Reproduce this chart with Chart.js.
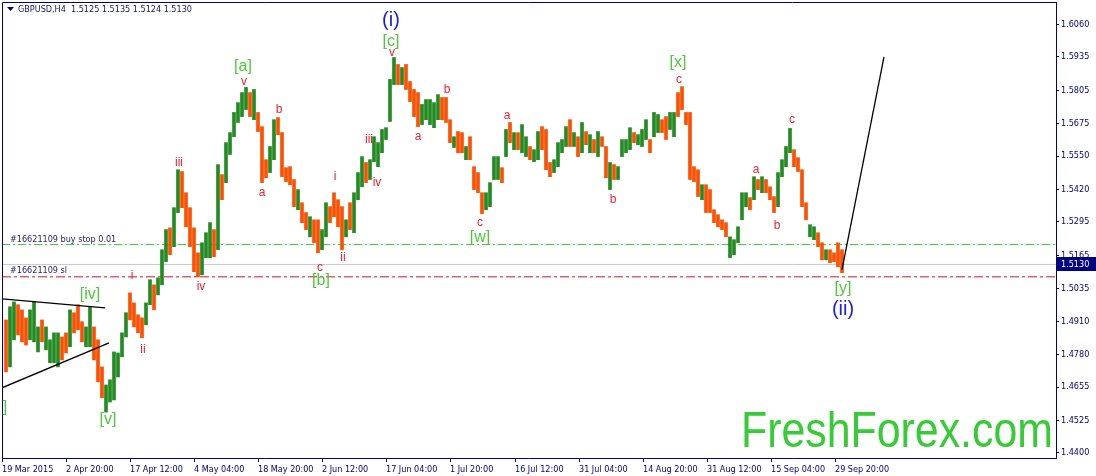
<!DOCTYPE html>
<html>
<head>
<meta charset="utf-8">
<script src="https://cdn.jsdelivr.net/npm/chart.js@4.4.1/dist/chart.umd.min.js"></script>
<style>
  html, body { margin: 0; padding: 0; background: #fff; }
</style>
</head>
<body>
<canvas id="myChart" width="1096" height="476"></canvas>
<script>
// price scale labels (MT4 style)
const priceTicks = [1.6060, 1.5935, 1.5805, 1.5675, 1.5550, 1.5420, 1.5295, 1.5165, 1.5035, 1.4910, 1.4780, 1.4655, 1.4525, 1.4400];

// time scale: label text and bar number where it sits
const dateLabels = ['19 Mar 2015', '2 Apr 20:00', '17 Apr 12:00', '4 May 04:00', '18 May 20:00', '2 Jun 12:00', '17 Jun 04:00',
  '1 Jul 20:00', '16 Jul 12:00', '31 Jul 04:00', '14 Aug 20:00', '31 Aug 12:00', '15 Sep 04:00', '29 Sep 20:00'];
const dateBars = [0, 64, 128, 192, 256, 320, 384, 448, 513, 577, 641, 705, 769, 833];

// GBPUSD H4, each entry = 4 bars (high / low), u = up, d = down
const highs = [
  1.4915, 1.4966, 1.4985, 1.4974, 1.4954, 1.4923, 1.4954, 1.4985, 1.4888, 1.4915,
  1.4888, 1.4838, 1.4865, 1.4865, 1.4849, 1.4865, 1.4954, 1.4943, 1.4974, 1.4908,
  1.4888, 1.4966, 1.4888, 1.4838, 1.4733, 1.4663, 1.4683, 1.4791, 1.4787, 1.4865,
  1.4943, 1.5020, 1.4981, 1.4935, 1.4923, 1.4981, 1.5071, 1.5051, 1.5078, 1.5187,
  1.5265, 1.5272, 1.5350, 1.5497, 1.5490, 1.5408, 1.5350, 1.5272, 1.5175, 1.5214,
  1.5253, 1.5292, 1.5265, 1.5517, 1.5478, 1.5602, 1.5641, 1.5719, 1.5757, 1.5796,
  1.5816, 1.5796, 1.5808, 1.5719, 1.5664, 1.5536, 1.5587, 1.5691, 1.5699, 1.5641,
  1.5505, 1.5509, 1.5459, 1.5420, 1.5369, 1.5331, 1.5315, 1.5303, 1.5303, 1.5265,
  1.5369, 1.5354, 1.5408, 1.5381, 1.5354, 1.5303, 1.5369, 1.5408, 1.5486, 1.5548,
  1.5525, 1.5536, 1.5625, 1.5602, 1.5653, 1.5660, 1.5847, 1.5932, 1.5905, 1.5893,
  1.5905, 1.5839, 1.5808, 1.5796, 1.5750, 1.5769, 1.5769, 1.5757, 1.5788, 1.5777,
  1.5777, 1.5691, 1.5625, 1.5645, 1.5641, 1.5587, 1.5625, 1.5509, 1.5486, 1.5408,
  1.5408, 1.5447, 1.5548, 1.5548, 1.5505, 1.5653, 1.5680, 1.5641, 1.5641, 1.5672,
  1.5625, 1.5587, 1.5575, 1.5645, 1.5664, 1.5653, 1.5525, 1.5536, 1.5602, 1.5614,
  1.5664, 1.5691, 1.5641, 1.5625, 1.5680, 1.5645, 1.5633, 1.5614, 1.5645, 1.5625,
  1.5587, 1.5525, 1.5517, 1.5509, 1.5614, 1.5614, 1.5660, 1.5641, 1.5633, 1.5653,
  1.5691, 1.5614, 1.5719, 1.5711, 1.5691, 1.5703, 1.5719, 1.5719, 1.5796, 1.5819,
  1.5719, 1.5719, 1.5509, 1.5497, 1.5439, 1.5439, 1.5420, 1.5342, 1.5323, 1.5303,
  1.5292, 1.5237, 1.5226, 1.5276, 1.5408, 1.5408, 1.5389, 1.5470, 1.5459, 1.5470,
  1.5459, 1.5431, 1.5393, 1.5486, 1.5536, 1.5587, 1.5657, 1.5575, 1.5544, 1.5497,
  1.5369, 1.5284, 1.5276, 1.5253, 1.5214, 1.5187, 1.5187, 1.5175, 1.5214, 1.5187
];
const lows = [
  1.4714, 1.4733, 1.4838, 1.4857, 1.4830, 1.4818, 1.4838, 1.4830, 1.4791, 1.4830,
  1.4799, 1.4749, 1.4749, 1.4733, 1.4760, 1.4787, 1.4811, 1.4865, 1.4877, 1.4830,
  1.4811, 1.4811, 1.4760, 1.4675, 1.4613, 1.4558, 1.4597, 1.4605, 1.4694, 1.4772,
  1.4849, 1.4915, 1.4888, 1.4865, 1.4846, 1.4896, 1.4974, 1.4954, 1.5012, 1.5051,
  1.5141, 1.5168, 1.5199, 1.5331, 1.5350, 1.5276, 1.5199, 1.5102, 1.5082, 1.5090,
  1.5156, 1.5156, 1.5160, 1.5187, 1.5381, 1.5447, 1.5556, 1.5625, 1.5680, 1.5703,
  1.5730, 1.5703, 1.5691, 1.5645, 1.5447, 1.5466, 1.5486, 1.5536, 1.5633, 1.5470,
  1.5451, 1.5439, 1.5354, 1.5342, 1.5292, 1.5265, 1.5237, 1.5214, 1.5175, 1.5187,
  1.5237, 1.5292, 1.5315, 1.5276, 1.5187, 1.5237, 1.5265, 1.5253, 1.5381, 1.5431,
  1.5447, 1.5459, 1.5528, 1.5509, 1.5563, 1.5614, 1.5684, 1.5827, 1.5827, 1.5827,
  1.5808, 1.5761, 1.5703, 1.5664, 1.5672, 1.5691, 1.5672, 1.5660, 1.5691, 1.5691,
  1.5680, 1.5602, 1.5583, 1.5563, 1.5563, 1.5536, 1.5536, 1.5420, 1.5408, 1.5327,
  1.5342, 1.5354, 1.5459, 1.5459, 1.5447, 1.5548, 1.5602, 1.5575, 1.5575, 1.5563,
  1.5548, 1.5536, 1.5528, 1.5536, 1.5575, 1.5497, 1.5470, 1.5486, 1.5509, 1.5563,
  1.5587, 1.5587, 1.5587, 1.5548, 1.5563, 1.5594, 1.5563, 1.5563, 1.5548, 1.5587,
  1.5466, 1.5420, 1.5459, 1.5459, 1.5548, 1.5563, 1.5575, 1.5602, 1.5594, 1.5587,
  1.5614, 1.5563, 1.5625, 1.5641, 1.5641, 1.5614, 1.5653, 1.5625, 1.5703, 1.5730,
  1.5672, 1.5459, 1.5451, 1.5393, 1.5381, 1.5331, 1.5331, 1.5292, 1.5276, 1.5265,
  1.5237, 1.5156, 1.5168, 1.5214, 1.5303, 1.5354, 1.5342, 1.5381, 1.5420, 1.5408,
  1.5408, 1.5381, 1.5331, 1.5354, 1.5470, 1.5509, 1.5563, 1.5509, 1.5490, 1.5354,
  1.5303, 1.5237, 1.5226, 1.5199, 1.5148, 1.5148, 1.5137, 1.5141, 1.5121, 1.5098
];
const dirs = ('duuddduuud' + 'uuuudduddd' + 'uuddduuuuu' + 'udddduuduu' + 'uduudddddu' +
  'uududuuuuu' + 'ududdduudd' + 'dddudduddu' + 'udddduduuu' + 'duuuuuuudu' +
  'dddduuuuud' + 'dduddudddd' + 'uuuudududu' + 'uduuddduuu' + 'ududududud' +
  'duduuuuduu' + 'uduudduudd' + 'dddduddddd' + 'duuuuududu' + 'ddduuuuddd' +
  'duuddudddd').split('');

const lastQuote = [1.5125, 1.5135, 1.5124, 1.5130]; // O H L C
const buyStop = 1.5207;
const stopLoss = 1.5082;

// drawn lines: [bar, price]
const projection = [[840, 1.5110], [882, 1.5934]];
const triangleTop = [[0, 1.4997], [103, 1.4962]];
const triangleBottom = [[0, 1.4652], [107, 1.4826]];

// wave marks
const waveLabels = ['(i)', '[c]', 'v', '[a]', 'v', 'b', 'a', 'iii', 'iv', 'i', 'ii', '[iv]', '[v]', ']', 'c', '[b]', 'ii',
  'i', 'iii', 'iv', 'a', 'b', 'c', '[w]', 'a', 'b', '[x]', 'c', 'a', 'b', 'c', '[y]', '(ii)'];
const waveBars = [389, 389, 390, 241, 242, 277, 260, 177, 199, 130, 141, 88, 106, 3, 318, 319, 341,
  333, 367, 375, 416, 445, 478, 478, 505, 611, 676, 677, 754, 775, 790, 841, 841];
const wavePrices = [1.6076, 1.5994, 1.5951, 1.5897, 1.5839, 1.5730, 1.5408, 1.5525, 1.5043, 1.5086, 1.4799, 1.5012, 1.4527, 1.4574, 1.5117, 1.5067, 1.5156,
  1.5470, 1.5614, 1.5447, 1.5625, 1.5808, 1.5292, 1.5234, 1.5707, 1.5381, 1.5913, 1.5847, 1.5497, 1.5280, 1.5691, 1.5036, 1.4954];
const waveKinds = 'bgrgrrrrrrrggg' + 'rgrrrrrrrgrrgrrrrgb';

const NAVY = '#000080';
const UP = '#228B22';
const DOWN = '#FF4F00';
const smallFont = "9px 'DejaVu Sans Condensed', 'Liberation Sans', sans-serif";

function pts(list) {
  return list.map(p => ({x: p[0], y: p[1]}));
}

const candles = highs.map((h, i) => ({x: 4 + 4 * i, y: [lows[i], h]}));
const candleColors = dirs.map(d => d === 'u' ? UP : DOWN);

const decor = {
  id: 'decor',
  beforeDatasetsDraw(chart) {
    const ctx = chart.ctx;
    // watermark
    ctx.save();
    ctx.font = "50px 'Liberation Sans', sans-serif";
    ctx.fillStyle = '#36CC36';
    ctx.textBaseline = 'alphabetic';
    const w = ctx.measureText('FreshForex.com').width;
    ctx.translate(741, 447);
    ctx.scale(312 / w, 1);
    ctx.fillText('FreshForex.com', 0, 0);
    ctx.restore();
  },
  afterDatasetsDraw(chart) {
    const {ctx, chartArea: a, scales: {x, y}} = chart;
    ctx.save();
    // left and top frame
    ctx.strokeStyle = NAVY;
    ctx.lineWidth = 1;
    ctx.beginPath();
    ctx.moveTo(a.left + 0.5, a.bottom);
    ctx.lineTo(a.left + 0.5, a.top + 0.5);
    ctx.lineTo(a.right, a.top + 0.5);
    ctx.stroke();

    // title
    ctx.fillStyle = NAVY;
    ctx.beginPath();
    ctx.moveTo(a.left + 5, a.top + 5);
    ctx.lineTo(a.left + 12, a.top + 5);
    ctx.lineTo(a.left + 8.5, a.top + 9);
    ctx.closePath();
    ctx.fill();
    ctx.font = smallFont;
    ctx.textBaseline = 'middle';
    ctx.textAlign = 'left';
    ctx.fillStyle = '#141464';
    ctx.fillText('GBPUSD,H4  ' + lastQuote.map(v => v.toFixed(4)).join(' '), a.left + 16, a.top + 8);

    // order labels
    ctx.fillStyle = '#23236e';
    ctx.fillText('#16621109 buy stop 0.01', a.left + 8, y.getPixelForValue(buyStop) - 5);
    ctx.fillText('#16621109 sl', a.left + 8, y.getPixelForValue(stopLoss) - 6);

    // wave marks
    ctx.textAlign = 'center';
    waveLabels.forEach((t, i) => {
      const k = waveKinds[i];
      if (k === 'b') {
        ctx.font = "20px 'Liberation Sans', sans-serif";
        ctx.fillStyle = '#1C1CE0';
      } else if (k === 'g') {
        ctx.font = "16px 'Liberation Sans', sans-serif";
        ctx.fillStyle = '#4CCB3A';
      } else {
        ctx.font = "12px 'Liberation Sans', sans-serif";
        ctx.fillStyle = '#F4202E';
      }
      ctx.fillText(t, x.getPixelForValue(waveBars[i]), y.getPixelForValue(wavePrices[i]));
    });

    // current price box
    const py = Math.round(y.getPixelForValue(lastQuote[3]));
    ctx.fillStyle = NAVY;
    ctx.fillRect(a.right + 1, py - 7, 39, 14);
    ctx.fillStyle = '#fff';
    ctx.textAlign = 'left';
    ctx.font = smallFont;
    ctx.fillText(lastQuote[3].toFixed(4), a.right + 5, py + 0.5);
    ctx.restore();
  }
};

const ctx = document.getElementById('myChart').getContext('2d');
const chart = new Chart(ctx, {
  type: 'bar',
  data: {
    datasets: [
      {
        type: 'line', data: pts(projection), borderColor: '#000', borderWidth: 1.3,
        pointRadius: 0, order: 0
      },
      {
        type: 'line', data: pts(triangleTop), borderColor: '#000', borderWidth: 1.3,
        pointRadius: 0, order: 0
      },
      {
        type: 'line', data: pts(triangleBottom), borderColor: '#000', borderWidth: 1.3,
        pointRadius: 0, order: 0
      },
      {
        data: candles,
        backgroundColor: candleColors,
        barThickness: 3,
        borderWidth: 0,
        borderSkipped: false,
        order: 1
      },
      {
        type: 'line', data: pts([[0, lastQuote[3]], [1054, lastQuote[3]]]), borderColor: '#C8C8C8',
        borderWidth: 1, pointRadius: 0, order: 2
      },
      {
        type: 'line', data: pts([[0, buyStop], [1054, buyStop]]), borderColor: '#3CC03C',
        borderWidth: 1, borderDash: [8, 3, 2, 3], pointRadius: 0, order: 2
      },
      {
        type: 'line', data: pts([[0, stopLoss], [1054, stopLoss]]), borderColor: '#D0102A',
        borderWidth: 1, borderDash: [9, 3, 3, 3], pointRadius: 0, order: 2
      }
    ]
  },
  options: {
    responsive: false,
    animation: false,
    layout: { padding: { left: 2, top: 2, right: 0, bottom: 0 } },
    plugins: { legend: { display: false }, tooltip: { enabled: false } },
    scales: {
      x: {
        type: 'linear',
        offset: false,
        min: 0,
        max: 1054,
        afterBuildTicks: s => { s.ticks = dateBars.map(v => ({value: v})); },
        afterFit: s => { s.height = 18; s.paddingLeft = 0; s.paddingRight = 0; },
        ticks: {
          callback: (v, i) => dateLabels[i],
          align: 'start',
          autoSkip: false,
          maxRotation: 0,
          padding: 2,
          color: NAVY,
          font: { family: "'DejaVu Sans Condensed', 'Liberation Sans', sans-serif", size: 9 }
        },
        grid: { offset: false, drawOnChartArea: false, drawTicks: true, tickLength: 4, color: NAVY },
        border: { color: NAVY }
      },
      y: {
        position: 'right',
        min: 1.4380,
        max: 1.6147,
        afterBuildTicks: s => { s.ticks = priceTicks.map(v => ({value: v})); },
        afterFit: s => { s.width = 40; s.paddingTop = 0; s.paddingBottom = 0; },
        ticks: {
          callback: v => v.toFixed(4),
          padding: 2,
          color: NAVY,
          font: { family: "'DejaVu Sans Condensed', 'Liberation Sans', sans-serif", size: 9 }
        },
        grid: { drawOnChartArea: false, drawTicks: true, tickLength: 3, color: NAVY },
        border: { color: NAVY }
      }
    }
  },
  plugins: [decor]
});
</script>
</body>
</html>
